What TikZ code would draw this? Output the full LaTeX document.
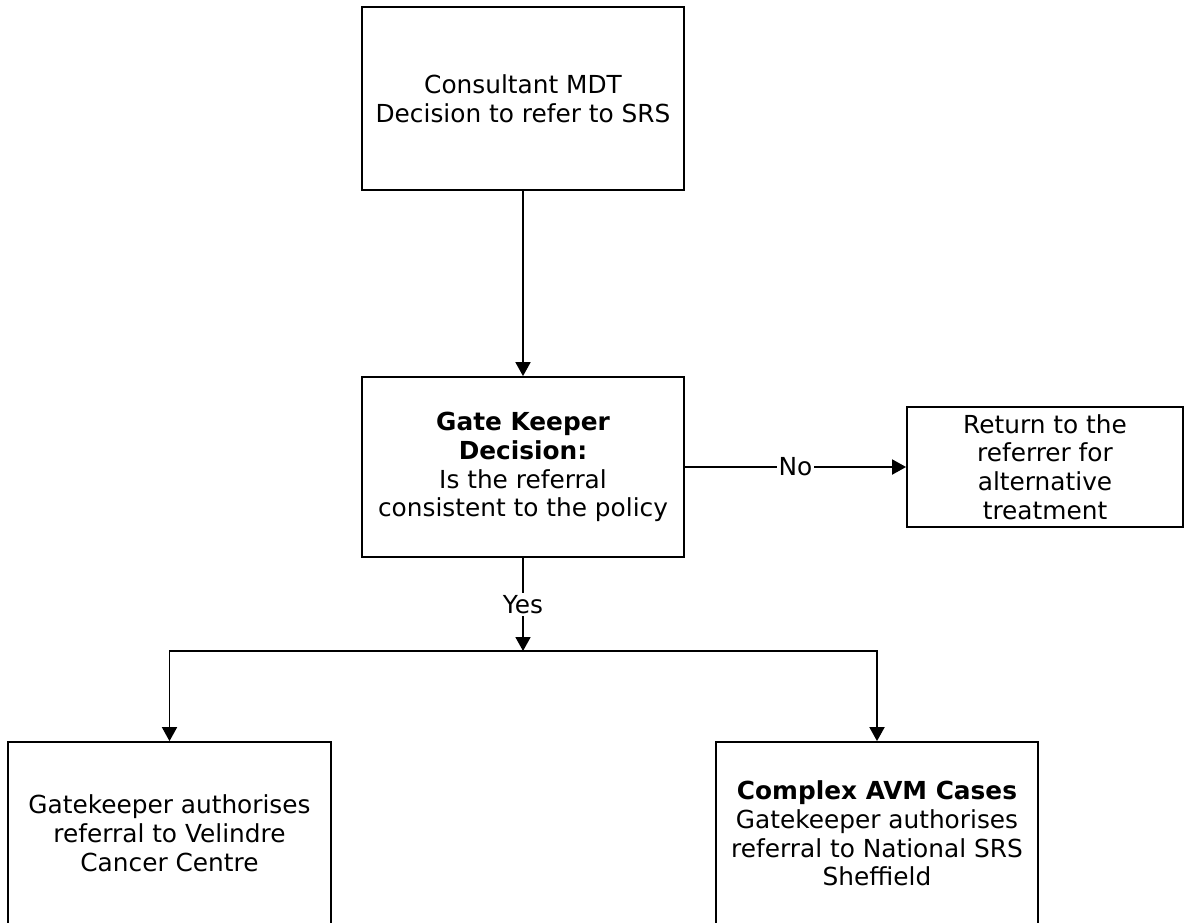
\documentclass[tikz,border=0pt]{standalone}
\usepackage{fontspec}
\setmainfont{DejaVu Sans}
\usetikzlibrary{arrows.meta}

\begin{document}
\begin{tikzpicture}[x=0.5pt,y=-0.5pt,
	main_node/.style={rectangle,draw,line width=0.9pt,align=center,inner sep=2pt,font=\fontsize{12.4}{14.4}\selectfont},
	label_node/.style={fill=white,inner sep=1pt,font=\fontsize{12.4}{14.4}\selectfont},
	arrow_line/.style={draw,line width=0.9pt,-{Triangle[length=7pt,width=7.5pt]}}]
				\useasboundingbox (0,0) rectangle (1187,922); %page size in pixels of the reference

					\node[main_node,minimum width=161pt,minimum height=91.5pt] (mdt) at (523,98.5){Consultant MDT\\Decision to refer to SRS};
					\node[main_node,minimum width=161pt,minimum height=90pt] (gate) at (523,467){\textbf{Gate Keeper}\\\textbf{Decision:}\\Is the referral\\consistent to the policy};
					\node[main_node,minimum width=138pt,minimum height=60pt] (return) at (1045,467){Return to the\\referrer for\\alternative\\treatment};
					\node[main_node,minimum width=161.5pt,minimum height=91.5pt] (velindre) at (169.5,833.5){Gatekeeper authorises\\referral to Velindre\\Cancer Centre};
					\node[main_node,minimum width=161pt,minimum height=91.5pt] (avm) at (877,833.5){\textbf{Complex AVM Cases}\\Gatekeeper authorises\\referral to National SRS\\Sheffield};

					\coordinate (split) at (523,651);

					\path[arrow_line]
    				(mdt) edge (gate)
    				(gate) edge node[label_node] {No} (return)
    				(gate) edge node[label_node] {Yes} (split)
    				;

    				\draw[arrow_line] (split) -| (velindre.north);
    				\draw[arrow_line] (split) -| (avm.north);
				\end{tikzpicture}
\end{document}
